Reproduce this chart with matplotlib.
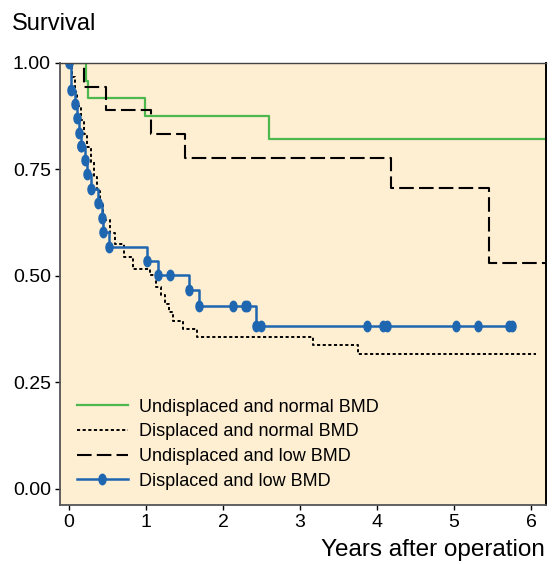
import matplotlib
matplotlib.use("Agg")
import matplotlib.pyplot as plt
from matplotlib.path import Path
from matplotlib.transforms import Affine2D

plt.rcParams["font.family"] = ["Liberation Sans", "DejaVu Sans"]

# Kaplan-Meier steps (years, survival)
green_t = [0, 0.22, 0.25, 0.99, 2.60, 6.4]
green_s = [1.0, 0.958, 0.917, 0.875, 0.822, 0.822]

dash_t = [0, 0.19, 0.48, 1.07, 1.51, 4.18, 5.46, 6.4]
dash_s = [1.0, 0.944, 0.889, 0.833, 0.778, 0.707, 0.530, 0.530]

dot_t = [0, 0.04, 0.08, 0.11, 0.15, 0.19, 0.23, 0.29, 0.33, 0.37, 0.40, 0.44,
         0.53, 0.60, 0.72, 0.83, 1.05, 1.13, 1.20, 1.25, 1.30, 1.35, 1.48, 1.66,
         3.17, 3.75, 6.07]
dot_s = [1.0, 0.967, 0.933, 0.900, 0.867, 0.833, 0.802, 0.767, 0.733, 0.700, 0.667, 0.632,
         0.600, 0.575, 0.545, 0.516, 0.502, 0.475, 0.455, 0.435, 0.415, 0.394, 0.376, 0.356,
         0.338, 0.318, 0.318]

blue_t = [0, 0.03, 0.08, 0.10, 0.13, 0.15, 0.16, 0.21, 0.23, 0.28, 0.38, 0.43, 0.44,
          0.52, 1.01, 1.16, 1.31, 1.56, 1.69, 2.13, 2.28, 2.31, 2.43, 2.50, 3.87,
          4.08, 4.13, 5.02, 5.31, 5.72, 5.75]
blue_s = [1.0, 0.937, 0.903, 0.870, 0.836, 0.806, 0.806, 0.772, 0.739, 0.704, 0.671, 0.637, 0.603,
          0.569, 0.536, 0.503, 0.503, 0.467, 0.430, 0.430, 0.430, 0.430, 0.383, 0.383, 0.383,
          0.383, 0.383, 0.383, 0.383, 0.383, 0.383]

labels = ["Undisplaced and normal BMD", "Displaced and normal BMD",
          "Undisplaced and low BMD", "Displaced and low BMD"]
yticks = [0.0, 0.25, 0.5, 0.75, 1.0]
xticks = [0, 1, 2, 3, 4, 5, 6]

# tall ellipse marker
ellipse = Path.unit_circle().transformed(Affine2D().scale(0.68, 1.0))

fig = plt.figure(figsize=(5.57, 5.64), dpi=100)
ax = fig.add_axes([0.1077, 0.1046, 0.8725, 0.7837])
ax.set_facecolor("#FEEED2")

ax.plot(green_t, green_s, drawstyle="steps-post", color="#4CB84E", lw=1.6, label=labels[0])
ax.plot(dot_t, dot_s, drawstyle="steps-post", color="black", lw=1.4,
        dashes=(1.6, 1.3), label=labels[1])
ax.plot(dash_t, dash_s, drawstyle="steps-post", color="black", lw=1.5,
        dashes=(7, 2.5), label=labels[2])
ax.plot(blue_t, blue_s, drawstyle="steps-post", color="#1F66B1", lw=1.8,
        marker=ellipse, markersize=7.5, label=labels[3])

ax.set_xlim(-0.117, 6.195)
ax.set_ylim(-0.0376, 1.0)
ax.set_xticks(xticks)
ax.set_yticks(yticks)
ax.set_yticklabels([f"{v:.2f}" for v in yticks])
ax.tick_params(direction="out", length=3.6, width=1.0, labelsize=14, pad=3, colors="black")

for side in ["left", "bottom"]:
    ax.spines[side].set_color("#555555")
    ax.spines[side].set_linewidth(1.3)
ax.spines["top"].set_color("#444444")
ax.spines["top"].set_linewidth(1.0)
ax.spines["right"].set_color("black")
ax.spines["right"].set_linewidth(1.4)

ax.legend(loc="lower left", bbox_to_anchor=(0.035, 0.035), frameon=False, fontsize=13,
          handlelength=2.8, handletextpad=0.62, labelspacing=0.42, borderpad=0,
          borderaxespad=0, numpoints=1)

fig.text(0.0215, 0.947, "Survival", fontsize=17, ha="left", va="baseline")
fig.text(0.577, 0.014, "Years after operation", fontsize=17.5, ha="left", va="baseline")

fig.savefig("out.png", dpi=100)
